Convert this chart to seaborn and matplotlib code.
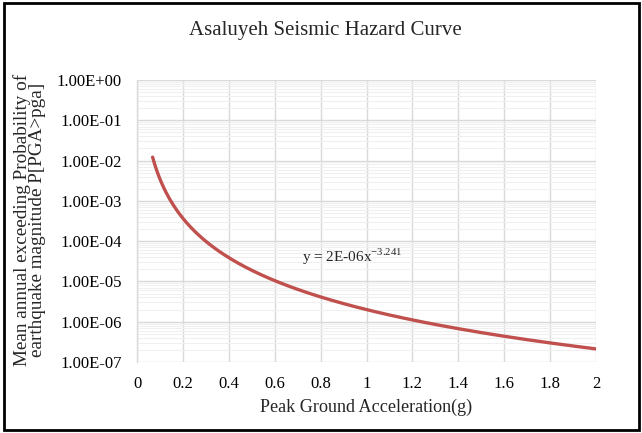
import numpy as np
import pandas as pd
import matplotlib
matplotlib.use("Agg")
import matplotlib.pyplot as plt
from matplotlib.patches import Rectangle
from matplotlib.ticker import FixedLocator, LogLocator, NullFormatter
import seaborn as sns

# Power-law hazard trendline: y = a * x^b
coef_a = 2e-6
exponent_b = -3.241
pga_start, pga_end = 0.068, 2.0
x_ticks = [0, 0.2, 0.4, 0.6, 0.8, 1, 1.2, 1.4, 1.6, 1.8, 2]
x_tick_labels = ["0", "0.2", "0.4", "0.6", "0.8", "1", "1.2", "1.4", "1.6", "1.8", "2"]
y_ticks = [1e0, 1e-1, 1e-2, 1e-3, 1e-4, 1e-5, 1e-6, 1e-7]
y_tick_labels = ["1.00E+00", "1.00E-01", "1.00E-02", "1.00E-03",
                 "1.00E-04", "1.00E-05", "1.00E-06", "1.00E-07"]

pga = np.linspace(pga_start, pga_end, 400)
prob = coef_a * pga ** exponent_b
df = pd.DataFrame({"pga": pga, "prob": prob})

sns.set_style("white")
plt.rcParams["font.family"] = ["Liberation Serif", "DejaVu Serif"]
plt.rcParams["mathtext.fontset"] = "custom"
plt.rcParams["mathtext.rm"] = "Liberation Serif"

fig = plt.figure(figsize=(6.42, 4.33), dpi=100)
ax = fig.add_axes([137 / 642, 1 - 362 / 433, (596 - 137) / 642, (362 - 80) / 433])

sns.lineplot(data=df, x="pga", y="prob", ax=ax, color="#C0504D", linewidth=2.4)

ax.set_yscale("log")
ax.set_xlim(0, 2)
ax.set_ylim(1e-7, 1e0)
ax.xaxis.set_major_locator(FixedLocator(x_ticks))
ax.set_xticklabels(x_tick_labels)
ax.yaxis.set_major_locator(FixedLocator(y_ticks))
ax.set_yticklabels(y_tick_labels)
ax.yaxis.set_minor_locator(LogLocator(base=10, subs=np.arange(2, 10)))
ax.yaxis.set_minor_formatter(NullFormatter())
ax.tick_params(axis="both", which="both", length=0, labelsize=12, colors="black")
ax.tick_params(axis="x", pad=10)
ax.tick_params(axis="y", pad=11)

ax.grid(True, which="major", color="#D9D9D9", linewidth=1.0)
ax.grid(True, which="minor", axis="y", color="#F0F0F0", linewidth=0.8)
ax.set_axisbelow(True)
for side in ["top", "right", "bottom"]:
    ax.spines[side].set_visible(False)
ax.spines["left"].set_color("#D9D9D9")
ax.spines["left"].set_linewidth(1.0)

ax.set_xlabel("Peak Ground Acceleration(g)", fontsize=13.1, labelpad=5)
ax.set_ylabel("")
fig.text(29.5 / 642, 1 - 220 / 433,
         "Mean annual exceeding Probability of\nearthquake magnitude P[PGA>pga]",
         fontsize=13.8, rotation=90, ha="center", va="center", linespacing=0.9)

ax.text(0.72, 10 ** -4.4, r"y = 2E-06x$^{-3.241}$", fontsize=11, ha="left", va="center")

fig.text(0.507, 1 - 30 / 433, "Asaluyeh Seismic Hazard Curve", fontsize=15,
         ha="center", va="center")

fig.patches.append(Rectangle((4 / 642, 3 / 433), 635 / 642, 427 / 433,
                             transform=fig.transFigure, fill=False,
                             edgecolor="black", linewidth=2.0))

fig.savefig("out.png", dpi=100)
